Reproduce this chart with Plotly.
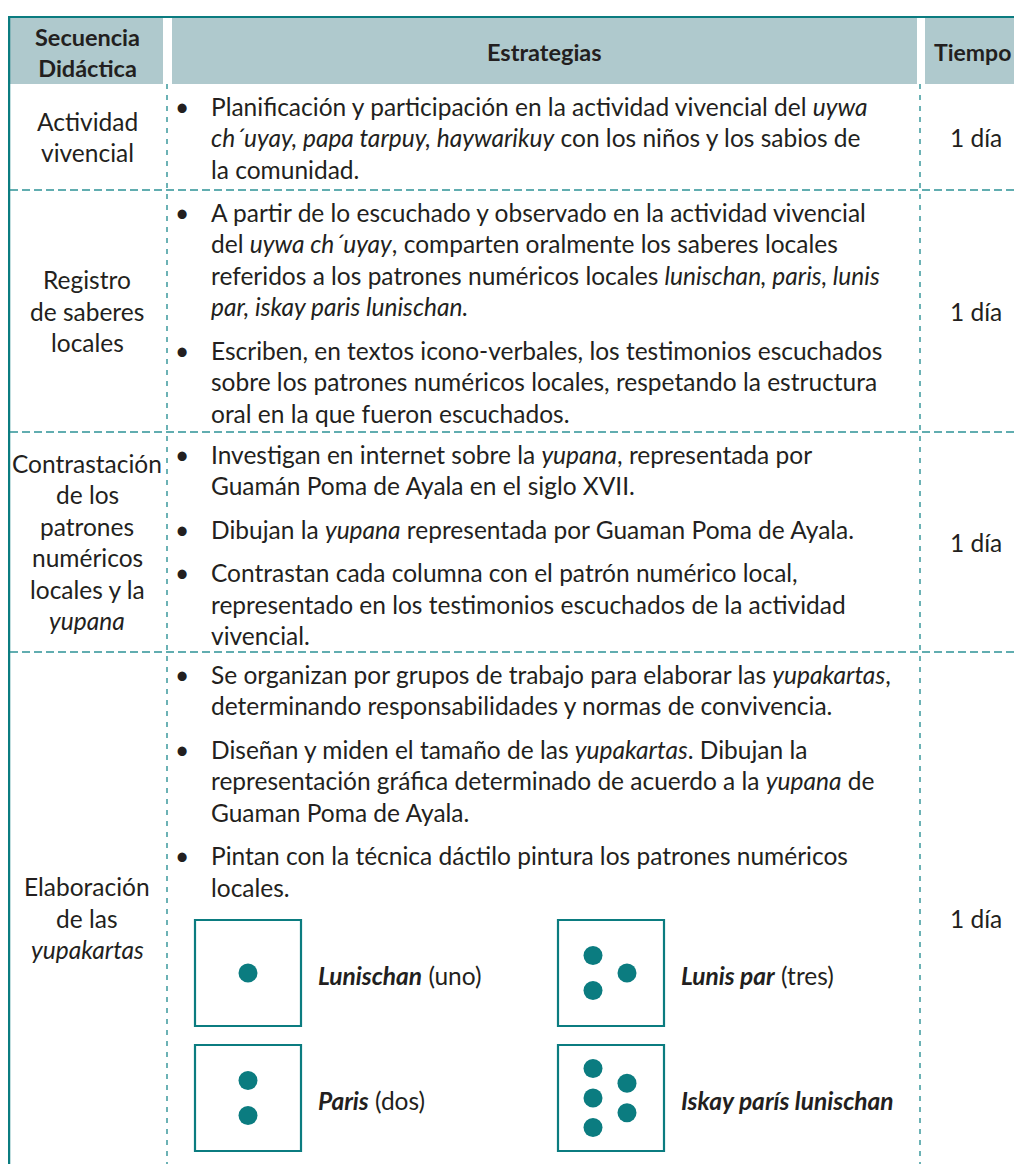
import plotly.graph_objects as go

# ---------------- data ----------------
encabezados = ["Secuencia<br>Didáctica", "Estrategias", "Tiempo"]

secuencia = [
    ["Actividad", "vivencial"],
    ["Registro", "de saberes", "locales"],
    ["Contrastación", "de los", "patrones", "numéricos", "locales y la", "<i>yupana</i>"],
    ["Elaboración", "de las", "<i>yupakartas</i>"],
]

estrategias_1 = [
    ["Planificación y participación en la actividad vivencial del <i>uywa</i>",
     "<i>ch´uyay, papa tarpuy, haywarikuy</i> con los niños y los sabios de",
     "la comunidad."],
]
estrategias_2 = [
    ["A partir de lo escuchado y observado en la actividad vivencial",
     "del <i>uywa ch´uyay</i>, comparten oralmente los saberes locales",
     "referidos a los patrones numéricos locales <i>lunischan, paris, lunis</i>",
     "<i>par, iskay paris lunischan.</i>"],
    ["Escriben, en textos icono-verbales, los testimonios escuchados",
     "sobre los patrones numéricos locales, respetando la estructura",
     "oral en la que fueron escuchados."],
]
estrategias_3 = [
    ["Investigan en internet sobre la <i>yupana</i>, representada por",
     "Guamán Poma de Ayala en el siglo XVII."],
    ["Dibujan la <i>yupana</i> representada por Guaman Poma de Ayala."],
    ["Contrastan cada columna con el patrón numérico local,",
     "representado en los testimonios escuchados de la actividad",
     "vivencial."],
]
estrategias_4 = [
    ["Se organizan por grupos de trabajo para elaborar las <i>yupakartas</i>,",
     "determinando responsabilidades y normas de convivencia."],
    ["Diseñan y miden el tamaño de las <i>yupakartas</i>. Dibujan la",
     "representación gráfica determinado de acuerdo a la <i>yupana</i> de",
     "Guaman Poma de Ayala."],
    ["Pintan con la técnica dáctilo pintura los patrones numéricos",
     "locales."],
]
estrategias = [estrategias_1, estrategias_2, estrategias_3, estrategias_4]

tiempo = ["1 día", "1 día", "1 día", "1 día"]

kartas_nombre = ["Lunischan", "Paris", "Lunis par", "Iskay parís lunischan"]
kartas_numero = [" (uno)", " (dos)", " (tres)", ""]
kartas_columnas = [[1], [2], [2, 1], [3, 2]]   # dots per column

# ---------------- style / layout ----------------
W, H = 1022, 1172
PAGE_MARGIN = 8          # default body margin of the html page
TEAL = "#0B7C80"
DASH = "#2E9296"
HEAD_BG = "#AFC9CD"
TXT = "#231F20"
FONT = "Lato, 'Open Sans', sans-serif"
FS = 24.5

col_x = [10, 167, 920, 1032]
row_y = [84, 190, 432, 652, 1184]
head_top = 18
pitch = 31.5
bullet_gap = 12
first_off = 22

fig = go.Figure()
shapes = []
ann = []

# header cells
head_cells = [(10, 163), (172, 917), (925, 1040)]
for (x0, x1) in head_cells:
    shapes.append(dict(type="rect", x0=x0, x1=x1, y0=head_top, y1=row_y[0],
                       fillcolor=HEAD_BG, line=dict(width=0), layer="below"))
head_cx = [87, 544, 972]
head_fs = [FS - 1, FS - 1, FS - 1.5]
for t, cx, fs in zip(encabezados, head_cx, head_fs):
    ann.append(dict(x=cx, y=(head_top + row_y[0]) / 2 + 1, text=f"<b>{t}</b>",
                    xanchor="center", yanchor="middle", showarrow=False,
                    font=dict(family=FONT, size=fs, color=TXT), align="center"))

# top and left solid teal borders
shapes.append(dict(type="line", x0=9, x1=W + 10, y0=17, y1=17, line=dict(color=TEAL, width=2)))
shapes.append(dict(type="line", x0=9, x1=9, y0=16, y1=H + 10, line=dict(color=TEAL, width=2.5)))

# dashed separators
for yy in row_y[1:4]:
    shapes.append(dict(type="line", x0=10, x1=W + 10, y0=yy, y1=yy,
                       line=dict(color=DASH, width=1.4, dash="8px,4px")))
for xx in col_x[1:3]:
    shapes.append(dict(type="line", x0=xx, x1=xx, y0=row_y[0], y1=H + 10,
                       line=dict(color=DASH, width=1.4, dash="5px,6px")))

for r in range(4):
    top, bot = row_y[r], row_y[r + 1]
    mid = (top + bot) / 2
    # column 1
    lines = secuencia[r]
    n = len(lines)
    for i, t in enumerate(lines):
        ann.append(dict(x=87, y=mid + (i - (n - 1) / 2) * pitch, text=t,
                        xanchor="center", yanchor="middle", showarrow=False,
                        font=dict(family=FONT, size=FS, color=TXT)))
    # column 2
    y = top + first_off
    for b, blines in enumerate(estrategias[r]):
        if b > 0:
            y += bullet_gap
        ann.append(dict(x=182, y=y, text="•", xanchor="center", yanchor="middle",
                        showarrow=False, font=dict(family=FONT, size=FS, color=TXT)))
        for t in blines:
            ann.append(dict(x=209, y=y, text=t, xanchor="left", yanchor="middle",
                            showarrow=False, font=dict(family=FONT, size=FS, color=TXT)))
            y += pitch
    # column 3
    ann.append(dict(x=976, y=mid, text=tiempo[r], xanchor="center", yanchor="middle",
                    showarrow=False, font=dict(family=FONT, size=FS, color=TXT)))

# yupakartas boxes
box_left = [195, 195, 558, 558]
box_top = [920, 1045, 920, 1045]
BOX = 106
dx, dy = [], []
for k in range(4):
    x0, y0 = box_left[k], box_top[k]
    shapes.append(dict(type="rect", x0=x0, x1=x0 + BOX, y0=y0, y1=y0 + BOX,
                       line=dict(color=TEAL, width=2.2), fillcolor="rgba(0,0,0,0)"))
    cols = kartas_columnas[k]
    cy = y0 + BOX / 2
    spacing = 35 if max(cols) <= 2 else 29.5
    if len(cols) == 1:
        xs = [x0 + BOX / 2]
    else:
        xs = [x0 + 35, x0 + 69]
    for cx, cnt in zip(xs, cols):
        for j in range(cnt):
            dx.append(cx)
            dy.append(cy + (j - (cnt - 1) / 2) * spacing)
    ann.append(dict(x=x0 + BOX + 15, y=cy + 2,
                    text=f"<b><i>{kartas_nombre[k]}</i></b>{kartas_numero[k]}",
                    xanchor="left", yanchor="middle", showarrow=False,
                    font=dict(family=FONT, size=FS, color=TXT)))

fig.add_trace(go.Scatter(x=dx, y=dy, mode="markers",
                         marker=dict(size=19, color=TEAL, line=dict(width=0)),
                         hoverinfo="skip", showlegend=False))

# the page adds an 8px body margin: shrink the figure and shift the data window
fw, fh = W - 2 * PAGE_MARGIN, H - 2 * PAGE_MARGIN
fig.update_layout(
    width=fw, height=fh,
    margin=dict(l=0, r=0, t=0, b=0),
    paper_bgcolor="white", plot_bgcolor="white",
    xaxis=dict(range=[PAGE_MARGIN, PAGE_MARGIN + fw], visible=False, fixedrange=True),
    yaxis=dict(range=[PAGE_MARGIN + fh, PAGE_MARGIN], visible=False, fixedrange=True),
    shapes=shapes, annotations=ann, showlegend=False,
)
fig.write_html("out.html")
